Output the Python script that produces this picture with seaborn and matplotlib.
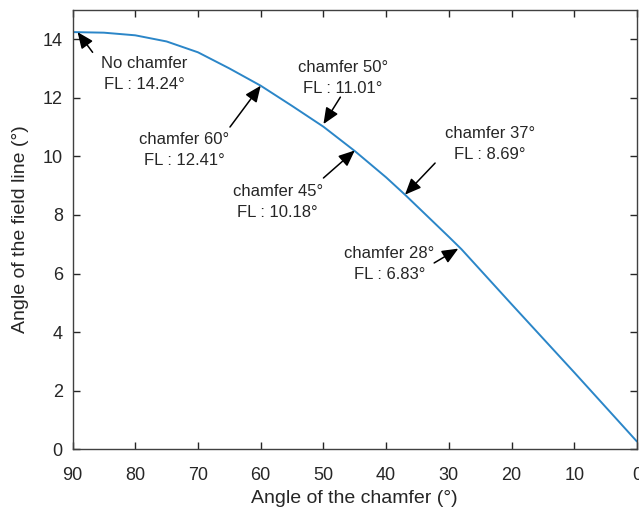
import matplotlib
matplotlib.use("Agg")
import matplotlib.pyplot as plt
import seaborn as sns
import pandas as pd

# Data
chamfer_angle = [90, 85, 80, 75, 70, 65, 60, 55, 50, 45, 40, 37, 30, 28, 20, 10, 0]
field_line_angle = [14.24, 14.22, 14.13, 13.92, 13.55, 13.0, 12.41, 11.72, 11.01, 10.18,
                    9.28, 8.69, 7.25, 6.83, 4.95, 2.62, 0.26]

ann_labels = ["No chamfer\nFL : 14.24°", "chamfer 60°\nFL : 12.41°", "chamfer 50°\nFL : 11.01°",
              "chamfer 45°\nFL : 10.18°", "chamfer 37°\nFL : 8.69°", "chamfer 28°\nFL : 6.83°"]
ann_x = [89.2, 60, 50, 45, 37, 28.5]
ann_y = [14.24, 12.41, 11.1, 10.2, 8.69, 6.85]
# text centre positions (data coords)
ann_tx = [78.5, 72.2, 46.9, 57.3, 23.5, 39.5]
ann_ty = [12.81, 10.22, 12.69, 8.44, 10.43, 6.31]
# arrow tail positions (data coords)
ann_sx = [86.8, 64.9, 47.3, 50.0, 32.2, 32.35]
ann_sy = [13.55, 11.0, 12.02, 9.26, 9.77, 6.36]

tick_x = [90, 80, 70, 60, 50, 40, 30, 20, 10, 0]
tick_y = [0, 2, 4, 6, 8, 10, 12, 14]

sns.set_theme(style="white")
plt.rcParams['font.family'] = ['Liberation Sans', 'DejaVu Sans']

df = pd.DataFrame({"chamfer": chamfer_angle, "fl": field_line_angle})

fig = plt.figure(figsize=(6.39, 5.09), dpi=100)
ax = fig.add_axes([0.1135, 0.1173, 0.8835, 0.8634])

sns.lineplot(data=df, x="chamfer", y="fl", ax=ax, color="#2b86c8", linewidth=1.4,
             sort=False, estimator=None)

ax.set_xlim(90, 0)
ax.set_ylim(0, 15)
ax.set_xticks(tick_x)
ax.set_yticks(tick_y)
dark = "#262626"
ax.tick_params(direction="in", length=5, width=1, colors=dark, labelsize=13,
               top=True, right=True, bottom=True, left=True,
               labeltop=False, labelright=False)
ax.tick_params(axis="x", pad=13)
ax.tick_params(axis="y", pad=7)
for s in ax.spines.values():
    s.set_visible(True)
    s.set_color("#404040")
    s.set_linewidth(1.0)

ax.set_xlabel("Angle of the chamfer (°)", fontsize=14, color=dark, labelpad=4)
ax.set_ylabel("Angle of the field line (°)", fontsize=14, color=dark, labelpad=10)

for lab, x, y, tx, ty, sx, sy in zip(ann_labels, ann_x, ann_y, ann_tx, ann_ty, ann_sx, ann_sy):
    ax.text(tx, ty, lab, ha="center", va="center", fontsize=12, color=dark,
            linespacing=1.5)
    ax.annotate("", xy=(x, y), xytext=(sx, sy),
                arrowprops=dict(arrowstyle="-|>,head_length=0.7,head_width=0.3",
                                color="black", lw=1.1, mutation_scale=14,
                                shrinkA=0, shrinkB=0))

fig.savefig("out.png", dpi=100)
